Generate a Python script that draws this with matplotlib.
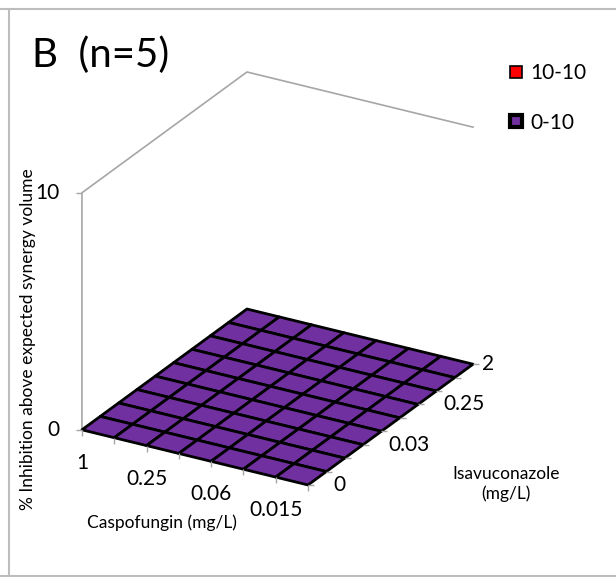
import numpy as np
import matplotlib
matplotlib.use("Agg")
import matplotlib.pyplot as plt
import matplotlib.transforms as mtransforms
from matplotlib.lines import Line2D

plt.rcParams['font.family'] = ['Lato', 'DejaVu Sans']

# concentrations (mg/L), one per grid line of the surface
caspofungin = ["1", "0.5", "0.25", "0.125", "0.06", "0.03", "0.015", "0.008"]
isavuconazole = ["0", "0.008", "0.016", "0.03", "0.06", "0.125", "0.25", "0.5", "1", "2"]

# % inhibition above expected synergy volume, rows = isavuconazole, cols = caspofungin
synergy = [
    [0, 0, 0, 0, 0, 0, 0, 0],
    [0, 0, 0, 0, 0, 0, 0, 0],
    [0, 0, 0, 0, 0, 0, 0, 0],
    [0, 0, 0, 0, 0, 0, 0, 0],
    [0, 0, 0, 0, 0, 0, 0, 0],
    [0, 0, 0, 0, 0, 0, 0, 0],
    [0, 0, 0, 0, 0, 0, 0, 0],
    [0, 0, 0, 0, 0, 0, 0, 0],
    [0, 0, 0, 0, 0, 0, 0, 0],
    [0, 0, 0, 0, 0, 0, 0, 0],
]
z_ticks = [0, 10]

legend_labels = ["10-10", "0-10"]
legend_colors = ["#FF0000", "#7030A0"]

purple = "#7030A0"
wall_grey = "#A6A6A6"

fig = plt.figure(figsize=(6.16, 5.77), dpi=100)
fig.patch.set_facecolor("white")

ax = fig.add_axes([0.0495, 0.0893, 0.7808, 0.8336], projection="3d")
ax.set_proj_type("ortho")
ax.view_init(elev=25, azim=-60)
ax.set_box_aspect((261, 330, 261.5))

nx = len(caspofungin) - 1
ny = len(isavuconazole) - 1
ax.set_xlim(0, nx)
ax.set_ylim(0, ny)
ax.set_zlim(z_ticks[0], z_ticks[-1])
ax.set_xticks([])
ax.set_yticks([])
ax.set_zticks([])
ax.set_axis_off()
ax.computed_zorder = False


def shift(dx, dy):
    # offset in pixels from the projected point
    return ax.transData + mtransforms.ScaledTranslation(dx / 100, dy / 100, fig.dpi_scale_trans)


# walls outline
ax.plot([0, 0, 0, nx], [0, 0, ny, ny], [z_ticks[0], z_ticks[-1], z_ticks[-1], z_ticks[-1]],
        color=wall_grey, lw=1.2, zorder=1)

X, Y = np.meshgrid(np.arange(len(caspofungin)), np.arange(len(isavuconazole)))
Z = np.array(synergy, dtype=float)
ax.plot_surface(X, Y, Z, color=purple, edgecolor="black", linewidth=2.0,
                shade=False, rstride=1, cstride=1, zorder=2)

# tick marks
xs = np.arange(len(caspofungin))
ax.plot(xs, np.zeros(len(xs)), np.zeros(len(xs)), ls="none", marker=3, ms=4,
        mew=1, color=wall_grey, zorder=3)
ys = np.arange(len(isavuconazole))
ax.plot(np.full(len(ys), nx), ys, np.zeros(len(ys)), ls="none", marker=1, ms=4,
        mew=1, color=wall_grey, zorder=3)
ax.plot([0, 0], [0, 0], z_ticks, ls="none", marker=0, ms=4, mew=1,
        color=wall_grey, zorder=3)

# tick labels
for i, lab in enumerate(caspofungin):
    if i % 2 == 0:
        ax.text(i, 0, 0, lab, ha="center", va="center", fontsize=15,
                transform=shift(0, -33))
for j, lab in enumerate(isavuconazole):
    if j % 3 == 0:
        dx = 9 if j == ny else 25
        ax.text(nx, j, 0, lab, ha="left", va="center", fontsize=15,
                transform=shift(dx, 0))
for z in z_ticks:
    ax.text(0, 0, z, str(z), ha="right", va="center", fontsize=15,
            transform=shift(-22, 0))

# titles
W, H = 616, 577
fig.text(32 / W, 1 - 67 / H, "B  (n=5)", fontsize=29, ha="left", va="baseline")
fig.text(162 / W, 1 - 523 / H, "Caspofungin (mg/L)", fontsize=12.5,
         ha="center", va="center")
fig.text(506 / W, 1 - 484 / H, "Isavuconazole\n(mg/L)", fontsize=12.5,
         ha="center", va="center", multialignment="center")
fig.text(28 / W, 1 - 339 / H, "% Inhibition above expected synergy volume",
         fontsize=12.5, rotation=90, ha="center", va="center")

# legend
handles = [
    Line2D([], [], ls="none", marker="s", ms=8.2, mfc=legend_colors[0], mec="black", mew=1.2),
    Line2D([], [], ls="none", marker="s", ms=8.4, mfc=legend_colors[1], mec="black", mew=3.0),
]
fig.legend(handles, legend_labels, loc="upper left",
           bbox_to_anchor=(507.7 / W, 1 - 63 / H), frameon=False, fontsize=15,
           handlelength=0.8, handletextpad=0.27, labelspacing=1.43, borderpad=0,
           borderaxespad=0)

# sheet frame lines
frame = "#BDBDBD"
fig.add_artist(Line2D([0, 1], [1 - 8.5 / H, 1 - 8.5 / H], transform=fig.transFigure, color=frame, lw=1.5))
fig.add_artist(Line2D([0, 1], [1 - 576 / H, 1 - 576 / H], transform=fig.transFigure, color=frame, lw=1.5))
fig.add_artist(Line2D([8.5 / W, 8.5 / W], [0, 1 - 8.5 / H], transform=fig.transFigure, color=frame, lw=1.5))

fig.savefig("out.png", dpi=100, facecolor="white")
